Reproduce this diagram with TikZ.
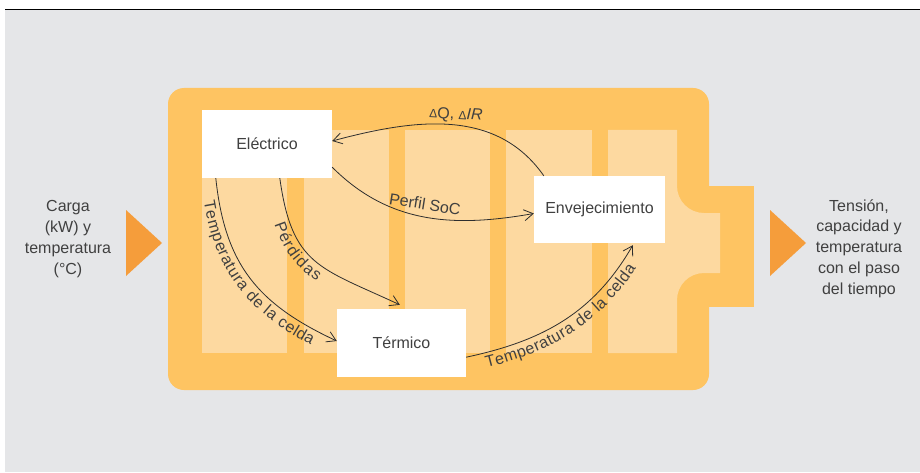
\documentclass[tikz,border=0pt]{standalone}
\usepackage{fontspec}
\setmainfont{Liberation Sans}
\usetikzlibrary{arrows.meta,decorations.text}
\definecolor{panel}{HTML}{E5E6E8}
\definecolor{shell}{HTML}{FEC462}
\definecolor{cellfill}{HTML}{FDD9A0}
\definecolor{pointer}{HTML}{F59D3B}
\definecolor{ink}{HTML}{404040}
\definecolor{wire}{HTML}{2E2E2E}
\newcommand{\boxfont}{\fontsize{16}{20.8}\selectfont}
\newcommand{\smalldelta}{{\fontsize{12}{12}\selectfont Δ}}

\begin{document}
\begin{tikzpicture}[x=1pt,y=-1pt,
	block/.style={fill=white,minimum width=130pt,minimum height=68pt,inner sep=0pt,text=ink,font=\boxfont},
	flow/.style={draw=wire,line width=0.8pt,-{Straight Barb[length=9pt,width=11pt]}},
	along/.style={postaction={decorate,decoration={text along path,text={|\color{ink}\boxfont|#1},text align=center,raise=-15pt}}},
	alongat/.style 2 args={postaction={decorate,decoration={text along path,text={|\color{ink}\boxfont|#2},text align={left indent=#1},raise=-15pt}}},
	side/.style={align=center,text=ink,font=\boxfont}]
		
		\useasboundingbox (0,0) rectangle (920,473);
		\fill[panel] (5,9) rectangle (920,472);
		\draw[line width=1.2pt] (5,9.6) -- (920,9.6);
		
		\fill[shell,rounded corners=16pt] (168,88) rectangle (709,390);
		\fill[shell] (700,186) rectangle (754,307);
		\foreach \a/\b in {202/287,304/389,405/490,506/592}
			\fill[cellfill] (\a,130) rectangle (\b,353);
		\fill[cellfill] (608,130) -- (677,130) -- (677,186) .. controls (677,201) and (689,213) .. (704,213) -- (720,213) -- (720,273) -- (704,273) .. controls (689,273) and (677,285) .. (677,300) -- (677,353) -- (608,353) -- cycle;
		
		\fill[pointer] (126,210) -- (162,243) -- (126,276) -- cycle;
		\fill[pointer] (770,210) -- (806,243) -- (770,276) -- cycle;
		
		\node[side] (load) at (68,239) {Carga\\(kW) y\\temperatura\\(°C)};
		\node[side] (result) at (859,248.5) {Tensión,\\capacidad y\\temperatura\\con el paso\\del tiempo};
		
		\node[block] (elec) at (267,144) {Eléctrico};
		\node[block,minimum width=131pt,minimum height=67pt] (aging) at (599.5,209.5) {Envejecimiento};
		\node[block,minimum width=129pt] (therm) at (401.5,343) {Térmico};
		
		\draw[flow] ([xshift=10pt]aging.north west) to[out=125,in=15] ([yshift=3pt]elec.east);
		\draw[flow] ([yshift=11pt]elec.south east) to[out=-45,in=190] ([yshift=-4pt]aging.west);
		\draw[flow,along=Temperatura de la celda] ([xshift=14pt]elec.south west) to[out=-84,in=155,looseness=1.1] ([yshift=2pt]therm.west);
		\draw[flow,alongat={42pt}{Pérdidas}] ([xshift=78pt]elec.south west) to[out=-82,in=155,looseness=1.3] ([xshift=63pt,yshift=4pt]therm.north west);
		\draw[flow,along=Temperatura de la celda] ([yshift=20pt]therm.south east) to[out=12,in=-120] ([xshift=99pt,yshift=-2pt]aging.south west);
		
		\node[text=ink,font=\boxfont,rotate=-3] (delta) at (456,115) {\smalldelta Q, \smalldelta\textit{IR}};
		\node[text=ink,font=\boxfont,rotate=-9] (soc) at (425,204) {Perfil SoC};
		\end{tikzpicture}
\end{document}
